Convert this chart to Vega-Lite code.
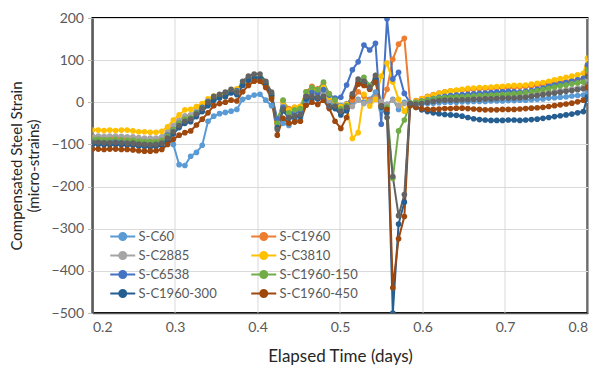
{
"$schema": "https://vega.github.io/schema/vega-lite/v6.json",
"width": 495, "height": 295,
"autosize": "none",
"padding": {"left": 92.5, "top": 18, "right": 7.5, "bottom": 54},
"background": "white",
"config": {
  "font": "Lato",
  "view": {"stroke": "#000000", "strokeWidth": 2},
  "axis": {"gridColor": "#d9d9d9", "gridWidth": 1, "labelColor": "#595959", "labelFontSize": 14, "titleFontSize": 15, "titleFontWeight": "normal", "titleColor": "#262626", "domainColor": "#595959", "domainWidth": 1.5, "tickColor": "#bfbfbf"}
},
"data": {"values": [
{"t":0.2,"S-C60":-88,"S-C1960":-84,"S-C2885":-80,"S-C3810":-66,"S-C6538":-92,"S-C1960-150":-88,"S-C1960-300":-100,"S-C1960-450":-111,"Series 9":-95},
{"t":0.207,"S-C60":-88,"S-C1960":-84,"S-C2885":-80,"S-C3810":-66,"S-C6538":-92,"S-C1960-150":-88,"S-C1960-300":-100,"S-C1960-450":-111,"Series 9":-95},
{"t":0.214,"S-C60":-89,"S-C1960":-85,"S-C2885":-81,"S-C3810":-67,"S-C6538":-93,"S-C1960-150":-89,"S-C1960-300":-101,"S-C1960-450":-112,"Series 9":-96},
{"t":0.221,"S-C60":-89,"S-C1960":-85,"S-C2885":-80,"S-C3810":-66,"S-C6538":-92,"S-C1960-150":-89,"S-C1960-300":-101,"S-C1960-450":-111,"Series 9":-96},
{"t":0.228,"S-C60":-88,"S-C1960":-84,"S-C2885":-80,"S-C3810":-67,"S-C6538":-92,"S-C1960-150":-88,"S-C1960-300":-100,"S-C1960-450":-111,"Series 9":-95},
{"t":0.235,"S-C60":-89,"S-C1960":-85,"S-C2885":-81,"S-C3810":-66,"S-C6538":-93,"S-C1960-150":-89,"S-C1960-300":-101,"S-C1960-450":-112,"Series 9":-96},
{"t":0.242,"S-C60":-90,"S-C1960":-86,"S-C2885":-82,"S-C3810":-66,"S-C6538":-94,"S-C1960-150":-90,"S-C1960-300":-102,"S-C1960-450":-112,"Series 9":-97},
{"t":0.249,"S-C60":-91,"S-C1960":-86,"S-C2885":-82,"S-C3810":-68,"S-C6538":-94,"S-C1960-150":-90,"S-C1960-300":-102,"S-C1960-450":-113,"Series 9":-97},
{"t":0.256,"S-C60":-92,"S-C1960":-88,"S-C2885":-84,"S-C3810":-70,"S-C6538":-96,"S-C1960-150":-92,"S-C1960-300":-104,"S-C1960-450":-115,"Series 9":-99},
{"t":0.263,"S-C60":-93,"S-C1960":-89,"S-C2885":-85,"S-C3810":-70,"S-C6538":-96,"S-C1960-150":-93,"S-C1960-300":-105,"S-C1960-450":-116,"Series 9":-100},
{"t":0.27,"S-C60":-94,"S-C1960":-90,"S-C2885":-85,"S-C3810":-71,"S-C6538":-97,"S-C1960-150":-94,"S-C1960-300":-106,"S-C1960-450":-116,"Series 9":-101},
{"t":0.277,"S-C60":-93,"S-C1960":-89,"S-C2885":-85,"S-C3810":-71,"S-C6538":-96,"S-C1960-150":-93,"S-C1960-300":-105,"S-C1960-450":-115,"Series 9":-100},
{"t":0.284,"S-C60":-90,"S-C1960":-86,"S-C2885":-82,"S-C3810":-69,"S-C6538":-92,"S-C1960-150":-90,"S-C1960-300":-102,"S-C1960-450":-112,"Series 9":-97},
{"t":0.291,"S-C60":-78,"S-C1960":-74,"S-C2885":-70,"S-C3810":-58,"S-C6538":-78,"S-C1960-150":-80,"S-C1960-300":-90,"S-C1960-450":-100,"Series 9":-85},
{"t":0.298,"S-C60":-100,"S-C1960":-58,"S-C2885":-55,"S-C3810":-42,"S-C6538":-65,"S-C1960-150":-65,"S-C1960-300":-75,"S-C1960-450":-88,"Series 9":-70},
{"t":0.305,"S-C60":-148,"S-C1960":-44,"S-C2885":-42,"S-C3810":-30,"S-C6538":-50,"S-C1960-150":-50,"S-C1960-300":-60,"S-C1960-450":-78,"Series 9":-55},
{"t":0.312,"S-C60":-150,"S-C1960":-34,"S-C2885":-32,"S-C3810":-18,"S-C6538":-42,"S-C1960-150":-40,"S-C1960-300":-50,"S-C1960-450":-72,"Series 9":-45},
{"t":0.319,"S-C60":-128,"S-C1960":-32,"S-C2885":-30,"S-C3810":-17,"S-C6538":-38,"S-C1960-150":-37,"S-C1960-300":-46,"S-C1960-450":-68,"Series 9":-40},
{"t":0.326,"S-C60":-119,"S-C1960":-22,"S-C2885":-20,"S-C3810":-10,"S-C6538":-25,"S-C1960-150":-26,"S-C1960-300":-34,"S-C1960-450":-54,"Series 9":-28},
{"t":0.333,"S-C60":-102,"S-C1960":-12,"S-C2885":-10,"S-C3810":-3,"S-C6538":-12,"S-C1960-150":-15,"S-C1960-300":-22,"S-C1960-450":-40,"Series 9":-15},
{"t":0.34,"S-C60":-45,"S-C1960":2,"S-C2885":3,"S-C3810":8,"S-C6538":2,"S-C1960-150":0,"S-C1960-300":-8,"S-C1960-450":-25,"Series 9":0},
{"t":0.347,"S-C60":-33,"S-C1960":10,"S-C2885":12,"S-C3810":15,"S-C6538":12,"S-C1960-150":10,"S-C1960-300":5,"S-C1960-450":-8,"Series 9":14},
{"t":0.354,"S-C60":-27,"S-C1960":14,"S-C2885":16,"S-C3810":18,"S-C6538":16,"S-C1960-150":15,"S-C1960-300":10,"S-C1960-450":-3,"Series 9":19},
{"t":0.361,"S-C60":-24,"S-C1960":13,"S-C2885":15,"S-C3810":16,"S-C6538":14,"S-C1960-150":14,"S-C1960-300":14,"S-C1960-450":0,"Series 9":24},
{"t":0.368,"S-C60":-21,"S-C1960":24,"S-C2885":26,"S-C3810":28,"S-C6538":25,"S-C1960-150":25,"S-C1960-300":22,"S-C1960-450":5,"Series 9":31},
{"t":0.375,"S-C60":-17,"S-C1960":28,"S-C2885":30,"S-C3810":32,"S-C6538":28,"S-C1960-150":25,"S-C1960-300":18,"S-C1960-450":3,"Series 9":24},
{"t":0.382,"S-C60":7,"S-C1960":40,"S-C2885":44,"S-C3810":45,"S-C6538":42,"S-C1960-150":44,"S-C1960-300":40,"S-C1960-450":25,"Series 9":50},
{"t":0.389,"S-C60":12,"S-C1960":48,"S-C2885":52,"S-C3810":52,"S-C6538":52,"S-C1960-150":55,"S-C1960-300":52,"S-C1960-450":40,"Series 9":62},
{"t":0.396,"S-C60":17,"S-C1960":52,"S-C2885":56,"S-C3810":57,"S-C6538":55,"S-C1960-150":58,"S-C1960-300":58,"S-C1960-450":50,"Series 9":67},
{"t":0.403,"S-C60":19,"S-C1960":52,"S-C2885":56,"S-C3810":57,"S-C6538":56,"S-C1960-150":58,"S-C1960-300":58,"S-C1960-450":50,"Series 9":67},
{"t":0.41,"S-C60":5,"S-C1960":42,"S-C2885":44,"S-C3810":42,"S-C6538":48,"S-C1960-150":45,"S-C1960-300":42,"S-C1960-450":35,"Series 9":50},
{"t":0.417,"S-C60":-8,"S-C1960":15,"S-C2885":15,"S-C3810":10,"S-C6538":20,"S-C1960-150":18,"S-C1960-300":15,"S-C1960-450":8,"Series 9":24},
{"t":0.424,"S-C60":-40,"S-C1960":-45,"S-C2885":-52,"S-C3810":-48,"S-C6538":-40,"S-C1960-150":-50,"S-C1960-300":-60,"S-C1960-450":-78,"Series 9":-64},
{"t":0.431,"S-C60":-50,"S-C1960":2,"S-C2885":-5,"S-C3810":2,"S-C6538":-12,"S-C1960-150":5,"S-C1960-300":-20,"S-C1960-450":-38,"Series 9":-17},
{"t":0.438,"S-C60":-55,"S-C1960":-15,"S-C2885":-28,"S-C3810":-18,"S-C6538":-30,"S-C1960-150":-25,"S-C1960-300":-38,"S-C1960-450":-50,"Series 9":-36},
{"t":0.445,"S-C60":-45,"S-C1960":-12,"S-C2885":-22,"S-C3810":-12,"S-C6538":-25,"S-C1960-150":-18,"S-C1960-300":-36,"S-C1960-450":-47,"Series 9":-33},
{"t":0.452,"S-C60":-38,"S-C1960":-10,"S-C2885":-20,"S-C3810":-10,"S-C6538":-22,"S-C1960-150":-15,"S-C1960-300":-33,"S-C1960-450":-45,"Series 9":-29},
{"t":0.459,"S-C60":0,"S-C1960":25,"S-C2885":15,"S-C3810":22,"S-C6538":15,"S-C1960-150":25,"S-C1960-300":8,"S-C1960-450":-7,"Series 9":14},
{"t":0.466,"S-C60":8,"S-C1960":38,"S-C2885":22,"S-C3810":30,"S-C6538":25,"S-C1960-150":35,"S-C1960-300":10,"S-C1960-450":0,"Series 9":14},
{"t":0.473,"S-C60":10,"S-C1960":32,"S-C2885":18,"S-C3810":25,"S-C6538":22,"S-C1960-150":30,"S-C1960-300":8,"S-C1960-450":-5,"Series 9":12},
{"t":0.48,"S-C60":15,"S-C1960":45,"S-C2885":25,"S-C3810":35,"S-C6538":30,"S-C1960-150":48,"S-C1960-300":10,"S-C1960-450":5,"Series 9":14},
{"t":0.487,"S-C60":0,"S-C1960":20,"S-C2885":5,"S-C3810":12,"S-C6538":17,"S-C1960-150":20,"S-C1960-300":-12,"S-C1960-450":-15,"Series 9":-9},
{"t":0.494,"S-C60":-5,"S-C1960":5,"S-C2885":0,"S-C3810":3,"S-C6538":10,"S-C1960-150":5,"S-C1960-300":-15,"S-C1960-450":-45,"Series 9":-9},
{"t":0.501,"S-C60":-8,"S-C1960":-12,"S-C2885":-15,"S-C3810":-10,"S-C6538":12,"S-C1960-150":-15,"S-C1960-300":-30,"S-C1960-450":-62,"Series 9":-21},
{"t":0.508,"S-C60":-3,"S-C1960":-5,"S-C2885":-18,"S-C3810":-5,"S-C6538":41,"S-C1960-150":-8,"S-C1960-300":-20,"S-C1960-450":-36,"Series 9":-12},
{"t":0.515,"S-C60":2,"S-C1960":5,"S-C2885":-10,"S-C3810":-86,"S-C6538":77,"S-C1960-150":15,"S-C1960-300":15,"S-C1960-450":14,"Series 9":20},
{"t":0.522,"S-C60":7,"S-C1960":25,"S-C2885":5,"S-C3810":-72,"S-C6538":96,"S-C1960-150":50,"S-C1960-300":45,"S-C1960-450":43,"Series 9":55},
{"t":0.529,"S-C60":0,"S-C1960":15,"S-C2885":-3,"S-C3810":19,"S-C6538":136,"S-C1960-150":59,"S-C1960-300":45,"S-C1960-450":40,"Series 9":50},
{"t":0.536,"S-C60":7,"S-C1960":5,"S-C2885":2,"S-C3810":-9,"S-C6538":124,"S-C1960-150":40,"S-C1960-300":32,"S-C1960-450":31,"Series 9":36},
{"t":0.543,"S-C60":24,"S-C1960":12,"S-C2885":10,"S-C3810":7,"S-C6538":140,"S-C1960-150":58,"S-C1960-300":55,"S-C1960-450":48,"Series 9":64},
{"t":0.55,"S-C60":-17,"S-C1960":-5,"S-C2885":3,"S-C3810":62,"S-C6538":-52,"S-C1960-150":-10,"S-C1960-300":-12,"S-C1960-450":-9,"Series 9":-9},
{"t":0.557,"S-C60":-5,"S-C1960":31,"S-C2885":-5,"S-C3810":93,"S-C6538":198,"S-C1960-150":-12,"S-C1960-300":-25,"S-C1960-450":-17,"Series 9":-36},
{"t":0.564,"S-C60":7,"S-C1960":102,"S-C2885":5,"S-C3810":48,"S-C6538":55,"S-C1960-150":-180,"S-C1960-300":-500,"S-C1960-450":-440,"Series 9":-176},
{"t":0.571,"S-C60":-17,"S-C1960":138,"S-C2885":-8,"S-C3810":7,"S-C6538":71,"S-C1960-150":-68,"S-C1960-300":-289,"S-C1960-450":-324,"Series 9":-269},
{"t":0.578,"S-C60":0,"S-C1960":152,"S-C2885":-3,"S-C3810":-21,"S-C6538":21,"S-C1960-150":-42,"S-C1960-300":-237,"S-C1960-450":-271,"Series 9":-219},
{"t":0.585,"S-C60":-3,"S-C1960":-2,"S-C2885":-2,"S-C3810":-2,"S-C6538":-2,"S-C1960-150":-2,"S-C1960-300":-5,"S-C1960-450":-8,"Series 9":-3},
{"t":0.592,"S-C60":-4,"S-C1960":4,"S-C2885":-1,"S-C3810":3,"S-C6538":0,"S-C1960-150":0,"S-C1960-300":-12,"S-C1960-450":-12,"Series 9":-4},
{"t":0.599,"S-C60":-4,"S-C1960":9,"S-C2885":1,"S-C3810":8,"S-C6538":3,"S-C1960-150":2,"S-C1960-300":-18,"S-C1960-450":-15,"Series 9":-3},
{"t":0.606,"S-C60":-3,"S-C1960":14,"S-C2885":3,"S-C3810":13,"S-C6538":6,"S-C1960-150":5,"S-C1960-300":-22,"S-C1960-450":-17,"Series 9":0},
{"t":0.613,"S-C60":-2,"S-C1960":18,"S-C2885":5,"S-C3810":17,"S-C6538":9,"S-C1960-150":8,"S-C1960-300":-25,"S-C1960-450":-17,"Series 9":2},
{"t":0.62,"S-C60":-1,"S-C1960":22,"S-C2885":7,"S-C3810":21,"S-C6538":12,"S-C1960-150":10,"S-C1960-300":-27,"S-C1960-450":-16,"Series 9":4},
{"t":0.627,"S-C60":0,"S-C1960":25,"S-C2885":8,"S-C3810":24,"S-C6538":14,"S-C1960-150":11,"S-C1960-300":-29,"S-C1960-450":-15,"Series 9":5},
{"t":0.634,"S-C60":0,"S-C1960":27,"S-C2885":9,"S-C3810":27,"S-C6538":16,"S-C1960-150":12,"S-C1960-300":-30,"S-C1960-450":-15,"Series 9":5},
{"t":0.641,"S-C60":0,"S-C1960":28,"S-C2885":9,"S-C3810":29,"S-C6538":17,"S-C1960-150":13,"S-C1960-300":-31,"S-C1960-450":-14,"Series 9":5},
{"t":0.648,"S-C60":1,"S-C1960":29,"S-C2885":10,"S-C3810":31,"S-C6538":18,"S-C1960-150":13,"S-C1960-300":-33,"S-C1960-450":-14,"Series 9":6},
{"t":0.655,"S-C60":1,"S-C1960":30,"S-C2885":10,"S-C3810":33,"S-C6538":19,"S-C1960-150":14,"S-C1960-300":-36,"S-C1960-450":-15,"Series 9":6},
{"t":0.662,"S-C60":2,"S-C1960":31,"S-C2885":11,"S-C3810":34,"S-C6538":20,"S-C1960-150":15,"S-C1960-300":-39,"S-C1960-450":-16,"Series 9":7},
{"t":0.669,"S-C60":2,"S-C1960":32,"S-C2885":11,"S-C3810":35,"S-C6538":21,"S-C1960-150":16,"S-C1960-300":-41,"S-C1960-450":-17,"Series 9":7},
{"t":0.676,"S-C60":2,"S-C1960":32,"S-C2885":12,"S-C3810":35,"S-C6538":22,"S-C1960-150":16,"S-C1960-300":-42,"S-C1960-450":-18,"Series 9":8},
{"t":0.683,"S-C60":3,"S-C1960":33,"S-C2885":12,"S-C3810":36,"S-C6538":23,"S-C1960-150":17,"S-C1960-300":-43,"S-C1960-450":-18,"Series 9":8},
{"t":0.69,"S-C60":3,"S-C1960":34,"S-C2885":13,"S-C3810":37,"S-C6538":24,"S-C1960-150":17,"S-C1960-300":-43,"S-C1960-450":-18,"Series 9":9},
{"t":0.697,"S-C60":3,"S-C1960":34,"S-C2885":13,"S-C3810":38,"S-C6538":25,"S-C1960-150":18,"S-C1960-300":-43,"S-C1960-450":-17,"Series 9":10},
{"t":0.704,"S-C60":4,"S-C1960":35,"S-C2885":14,"S-C3810":39,"S-C6538":26,"S-C1960-150":19,"S-C1960-300":-42,"S-C1960-450":-17,"Series 9":10},
{"t":0.711,"S-C60":4,"S-C1960":35,"S-C2885":14,"S-C3810":40,"S-C6538":25,"S-C1960-150":20,"S-C1960-300":-42,"S-C1960-450":-17,"Series 9":10},
{"t":0.718,"S-C60":5,"S-C1960":36,"S-C2885":15,"S-C3810":40,"S-C6538":24,"S-C1960-150":21,"S-C1960-300":-43,"S-C1960-450":-16,"Series 9":11},
{"t":0.725,"S-C60":5,"S-C1960":37,"S-C2885":16,"S-C3810":41,"S-C6538":26,"S-C1960-150":23,"S-C1960-300":-42,"S-C1960-450":-15,"Series 9":12},
{"t":0.732,"S-C60":6,"S-C1960":38,"S-C2885":18,"S-C3810":43,"S-C6538":28,"S-C1960-150":25,"S-C1960-300":-41,"S-C1960-450":-14,"Series 9":14},
{"t":0.739,"S-C60":7,"S-C1960":40,"S-C2885":20,"S-C3810":45,"S-C6538":31,"S-C1960-150":27,"S-C1960-300":-40,"S-C1960-450":-13,"Series 9":16},
{"t":0.746,"S-C60":8,"S-C1960":42,"S-C2885":22,"S-C3810":47,"S-C6538":34,"S-C1960-150":30,"S-C1960-300":-38,"S-C1960-450":-12,"Series 9":18},
{"t":0.753,"S-C60":10,"S-C1960":44,"S-C2885":24,"S-C3810":50,"S-C6538":38,"S-C1960-150":33,"S-C1960-300":-36,"S-C1960-450":-10,"Series 9":20},
{"t":0.76,"S-C60":11,"S-C1960":46,"S-C2885":26,"S-C3810":53,"S-C6538":41,"S-C1960-150":36,"S-C1960-300":-34,"S-C1960-450":-8,"Series 9":22},
{"t":0.767,"S-C60":12,"S-C1960":48,"S-C2885":28,"S-C3810":56,"S-C6538":44,"S-C1960-150":39,"S-C1960-300":-32,"S-C1960-450":-6,"Series 9":24},
{"t":0.774,"S-C60":13,"S-C1960":50,"S-C2885":30,"S-C3810":59,"S-C6538":47,"S-C1960-150":41,"S-C1960-300":-30,"S-C1960-450":-4,"Series 9":26},
{"t":0.781,"S-C60":15,"S-C1960":52,"S-C2885":32,"S-C3810":62,"S-C6538":50,"S-C1960-150":44,"S-C1960-300":-28,"S-C1960-450":-2,"Series 9":28},
{"t":0.788,"S-C60":16,"S-C1960":54,"S-C2885":34,"S-C3810":65,"S-C6538":53,"S-C1960-150":46,"S-C1960-300":-25,"S-C1960-450":1,"Series 9":30},
{"t":0.795,"S-C60":17,"S-C1960":56,"S-C2885":36,"S-C3810":69,"S-C6538":57,"S-C1960-150":48,"S-C1960-300":-22,"S-C1960-450":5,"Series 9":32},
{"t":0.8,"S-C60":22,"S-C1960":70,"S-C2885":55,"S-C3810":105,"S-C6538":88,"S-C1960-150":77,"S-C1960-300":13,"S-C1960-450":36,"Series 9":62}
]},
"transform": [{"fold": ["S-C60","S-C1960","S-C2885","S-C3810","S-C6538","S-C1960-150","S-C1960-300","S-C1960-450","Series 9"], "as": ["series","strain"]}],
"mark": {"type": "line", "strokeWidth": 2, "clip": true, "point": {"filled": true, "size": 32, "opacity": 1}},
"encoding": {
  "x": {"field": "t", "type": "quantitative", "scale": {"domain": [0.2, 0.8], "nice": false, "zero": false},
        "axis": {"values": [0.2,0.3,0.4,0.5,0.6,0.7,0.8], "format": ".1f", "title": "Elapsed Time (days)", "ticks": false, "labelPadding": 7, "titlePadding": 14, "titleFontSize": 17}},
  "y": {"field": "strain", "type": "quantitative", "scale": {"domain": [-500, 200], "nice": false, "zero": false},
        "axis": {"values": [-500,-400,-300,-200,-100,0,100,200], "title": ["Compensated Steel Strain", "(micro-strains)"], "tickSize": 5, "labelPadding": 4, "titlePadding": 10}},
  "color": {"field": "series", "type": "nominal",
    "scale": {"domain": ["S-C60","S-C1960","S-C2885","S-C3810","S-C6538","S-C1960-150","S-C1960-300","S-C1960-450","Series 9"],
              "range": ["#5B9BD5","#ED7D31","#A5A5A5","#FFC000","#4472C4","#70AD47","#255E91","#9E480E","#636363"]},
    "legend": {"values": ["S-C60","S-C2885","S-C6538","S-C1960-300","S-C1960","S-C3810","S-C1960-150","S-C1960-450"],
      "orient": "none", "legendX": 22.75, "legendY": 211, "columns": 2, "title": null,
      "symbolType": "M-2,0H2M-0.56,0A0.56,0.56,0,1,0,0.56,0A0.56,0.56,0,1,0,-0.56,0",
      "symbolSize": 156, "symbolStrokeWidth": 2, "labelFontSize": 13, "labelColor": "#595959", "labelOffset": 8.25,
      "columnPadding": 30, "rowPadding": 4,
      "encode": {"symbols": {"update": {"fill": {"scale": "color", "field": "value"}}}}}}
}
}
